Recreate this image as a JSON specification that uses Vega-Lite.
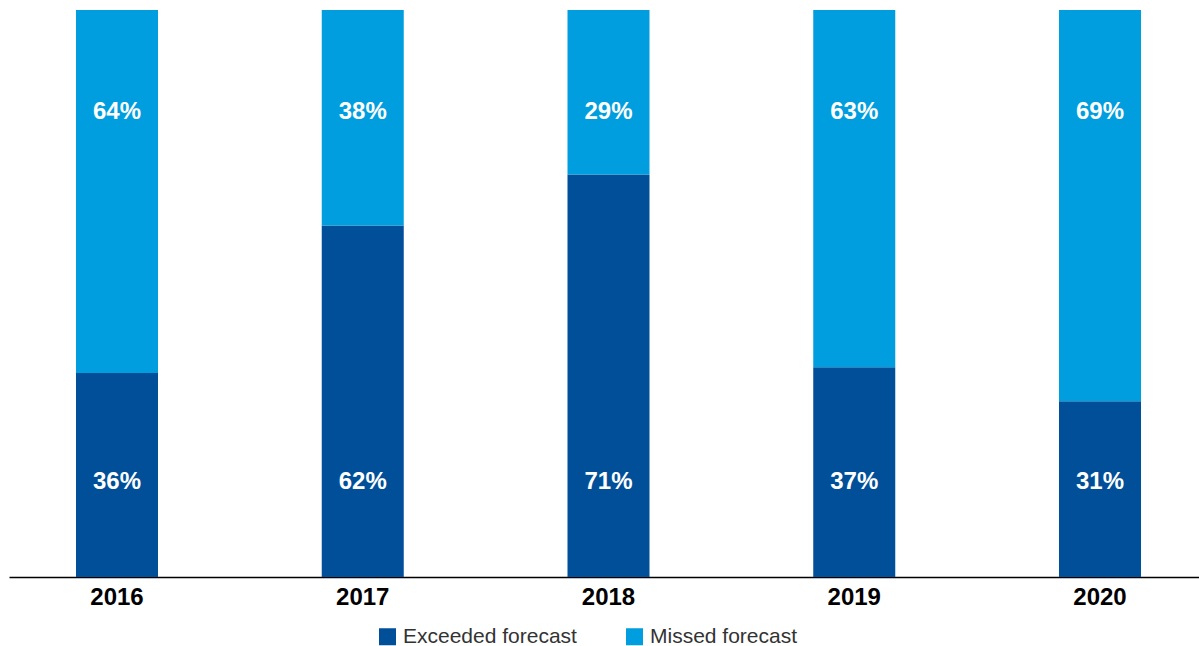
{
  "$schema": "https://vega.github.io/schema/vega-lite/v6.json",
  "width": 1190,
  "height": 567,
  "autosize": {"type": "none"},
  "padding": {"left": 9, "top": 10, "right": 0, "bottom": 69},
  "background": "white",
  "config": {
    "view": {"stroke": null},
    "font": "Liberation Sans"
  },
  "data": {
    "values": [
      {"year": "2016", "category": "Exceeded forecast", "value": 0.36},
      {"year": "2016", "category": "Missed forecast", "value": 0.64},
      {"year": "2017", "category": "Exceeded forecast", "value": 0.62},
      {"year": "2017", "category": "Missed forecast", "value": 0.38},
      {"year": "2018", "category": "Exceeded forecast", "value": 0.71},
      {"year": "2018", "category": "Missed forecast", "value": 0.29},
      {"year": "2019", "category": "Exceeded forecast", "value": 0.37},
      {"year": "2019", "category": "Missed forecast", "value": 0.63},
      {"year": "2020", "category": "Exceeded forecast", "value": 0.31},
      {"year": "2020", "category": "Missed forecast", "value": 0.69}
    ]
  },
  "encoding": {
    "x": {
      "field": "year",
      "type": "nominal",
      "scale": {"paddingInner": 0.6663, "paddingOuter": 0.2543, "align": 0.536},
      "axis": {
        "title": null,
        "labelAngle": 0,
        "ticks": false,
        "domainColor": "#000000",
        "domainWidth": 1.5,
        "labelFont": "Liberation Sans",
        "labelFontSize": 24,
        "labelFontWeight": "bold",
        "labelColor": "#000000",
        "labelPadding": 8,
        "grid": false
      }
    }
  },
  "layer": [
    {
      "mark": {"type": "bar"},
      "encoding": {
        "y": {
          "field": "value",
          "type": "quantitative",
          "stack": "zero",
          "scale": {"domain": [0, 1], "nice": false},
          "axis": null
        },
        "color": {
          "field": "category",
          "type": "nominal",
          "scale": {
            "domain": ["Exceeded forecast", "Missed forecast"],
            "range": ["#004F98", "#009EDE"]
          },
          "legend": {
            "title": null,
            "orient": "none",
            "direction": "horizontal",
            "legendX": 368,
            "legendY": 616,
            "symbolType": "square",
            "symbolSize": 289,
            "symbolStrokeWidth": 0,
            "symbolOpacity": 1,
            "labelFont": "Liberation Sans",
            "labelFontSize": 21,
            "labelColor": "#333333",
            "labelOffset": 5,
            "labelLimit": 400,
            "columnPadding": 47
          }
        },
        "order": {"field": "category", "sort": "ascending"}
      }
    },
    {
      "transform": [{"filter": "datum.category === 'Missed forecast'"}],
      "mark": {"type": "text", "color": "white", "font": "Liberation Sans", "fontSize": 24, "fontWeight": "bold", "baseline": "middle", "align": "center"},
      "encoding": {
        "y": {"datum": 0.82, "type": "quantitative"},
        "text": {"field": "value", "type": "quantitative", "format": ".0%"}
      }
    },
    {
      "transform": [{"filter": "datum.category === 'Exceeded forecast'"}],
      "mark": {"type": "text", "color": "white", "font": "Liberation Sans", "fontSize": 24, "fontWeight": "bold", "baseline": "middle", "align": "center"},
      "encoding": {
        "y": {"datum": 0.167, "type": "quantitative"},
        "text": {"field": "value", "type": "quantitative", "format": ".0%"}
      }
    }
  ]
}
